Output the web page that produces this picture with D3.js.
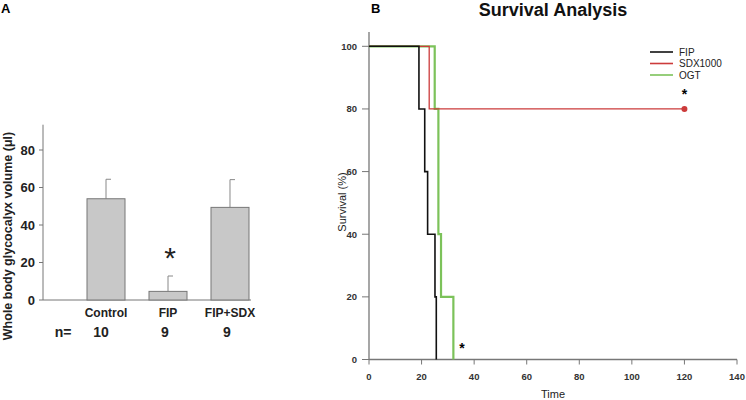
<!DOCTYPE html>
<html><head><meta charset="utf-8">
<script src="https://cdn.jsdelivr.net/npm/d3@7"></script>
<style>body{margin:0;background:#fff;}svg{display:block;font-family:"Liberation Sans",Arial,sans-serif;}</style>
</head><body>
<svg id="c" width="746" height="400"></svg>
<script>
// Panel A data
const groups = ["Control", "FIP", "FIP+SDX"];
const groupN = ["10", "9", "9"];
const means = [54, 4.6, 49.4];
const errUp = [64.4, 12.8, 64.2];
const yTicksA = [0, 20, 40, 60, 80];

// Panel B data (Kaplan-Meier step points: time, survival %)
const seriesNames = ["FIP", "SDX1000", "OGT"];
const fipTimes = [0, 19, 21.2, 22.3, 25.1, 25.6];
const fipSurv = [100, 80, 60, 40, 20, 0];
const sdxTimes = [0, 22.9, 120];
const sdxSurv = [100, 80, 80];
const ogtTimes = [0, 25, 26.4, 27.4, 32.1];
const ogtSurv = [100, 80, 40, 20, 0];
const xTicksB = [0, 20, 40, 60, 80, 100, 120, 140];
const yTicksB = [0, 20, 40, 60, 80, 100];
const colors = ["#111111", "#cc3b3b", "#7cc25a"];

const svg = d3.select("#c");

// ---------- Panel A ----------
const gA = svg.append("g");
gA.append("text").attr("x", 1).attr("y", 13).attr("font-weight", "bold").attr("font-size", 13).text("A");

const xA = d3.scaleBand().domain(groups).range([87, 249]).paddingInner(0.387).paddingOuter(0);
const yA = d3.scaleLinear().domain([0, 80]).range([300, 150]);
// axes
gA.append("line").attr("x1", 43).attr("x2", 43).attr("y1", yA(0)).attr("y2", yA(93.5)).attr("stroke", "#777");
gA.append("line").attr("x1", 43).attr("x2", 251).attr("y1", yA(0)).attr("y2", yA(0)).attr("stroke", "#777");
yTicksA.forEach(t => {
  gA.append("line").attr("x1", 39).attr("x2", 43).attr("y1", yA(t)).attr("y2", yA(t)).attr("stroke", "#777");
  gA.append("text").attr("x", 35).attr("y", yA(t)).attr("dy", "0.35em").attr("text-anchor", "end")
    .attr("font-weight", "bold").attr("font-size", 13).attr("fill", "#222").text(t);
});
gA.append("text").attr("transform", `translate(12,${236}) rotate(-90)`).attr("text-anchor", "middle")
  .attr("font-weight", "bold").attr("font-size", 12.5).attr("fill", "#222").text("Whole body glycocalyx volume (μl)");

const bw = xA.bandwidth();
groups.forEach((g, i) => {
  const x0 = xA(g);
  gA.append("line").attr("x1", x0 + bw / 2).attr("x2", x0 + bw / 2).attr("y1", yA(means[i])).attr("y2", yA(errUp[i])).attr("stroke", "#888");
  gA.append("line").attr("x1", x0 + bw / 2).attr("x2", x0 + bw / 2 + 5).attr("y1", yA(errUp[i])).attr("y2", yA(errUp[i])).attr("stroke", "#888");
  gA.append("rect").attr("x", x0).attr("y", yA(means[i])).attr("width", bw).attr("height", yA(0) - yA(means[i]))
    .attr("fill", "#c8c8c8").attr("stroke", "#777").attr("stroke-width", 1);
  gA.append("text").attr("x", x0 + bw / 2).attr("y", 317).attr("text-anchor", "middle")
    .attr("font-weight", "bold").attr("font-size", 12).attr("fill", "#222").text(g);
  gA.append("text").attr("x", x0 + bw / 2 - 3 + (i === 0 ? -2 : 0)).attr("y", 337).attr("text-anchor", "middle")
    .attr("font-weight", "bold").attr("font-size", 14).attr("fill", "#222").text(groupN[i]);
});
gA.append("text").attr("x", 63).attr("y", 337).attr("text-anchor", "middle")
  .attr("font-weight", "bold").attr("font-size", 14).attr("fill", "#222").text("n=");
gA.append("text").attr("x", xA("FIP") + bw / 2 + 2).attr("y", 268).attr("text-anchor", "middle")
  .attr("font-size", 30).attr("fill", "#222").text("*");

// ---------- Panel B ----------
const gB = svg.append("g");
gB.append("text").attr("x", 371).attr("y", 13).attr("font-weight", "bold").attr("font-size", 13).text("B");
gB.append("text").attr("x", 553).attr("y", 16).attr("text-anchor", "middle").attr("font-weight", "bold")
  .attr("font-size", 18).attr("fill", "#111").text("Survival Analysis");

const xB = d3.scaleLinear().domain([0, 140]).range([369, 737]);
const yB = d3.scaleLinear().domain([0, 100]).range([359.5, 46.3]);

gB.append("line").attr("x1", xB(0)).attr("x2", xB(0)).attr("y1", yB(0)).attr("y2", 32).attr("stroke", "#777").attr("stroke-width", 1.3);
gB.append("line").attr("x1", xB(0)).attr("x2", xB(140)).attr("y1", yB(0)).attr("y2", yB(0)).attr("stroke", "#777").attr("stroke-width", 1.3);
xTicksB.forEach(t => {
  gB.append("line").attr("x1", xB(t)).attr("x2", xB(t)).attr("y1", yB(0)).attr("y2", yB(0) + 5).attr("stroke", "#777");
  gB.append("text").attr("x", xB(t)).attr("y", 380).attr("text-anchor", "middle").attr("font-weight", "bold")
    .attr("font-size", 9.5).attr("fill", "#333").text(t);
});
yTicksB.forEach(t => {
  gB.append("line").attr("x1", xB(0) - 7).attr("x2", xB(0)).attr("y1", yB(t)).attr("y2", yB(t)).attr("stroke", "#777");
  gB.append("text").attr("x", xB(0) - 12).attr("y", yB(t)).attr("dy", "0.35em").attr("text-anchor", "end").attr("font-weight", "bold")
    .attr("font-size", 9.5).attr("fill", "#333").text(t);
});
gB.append("text").attr("x", 553).attr("y", 398).attr("text-anchor", "middle").attr("font-size", 11).attr("fill", "#222").text("Time");
gB.append("text").attr("transform", `translate(346,202) rotate(-90)`).attr("text-anchor", "middle")
  .attr("font-size", 11).attr("fill", "#222").text("Survival (%)");

const line = d3.line().x(d => xB(d[0])).y(d => yB(d[1])).curve(d3.curveStepAfter);
const series = [
  d3.zip(fipTimes, fipSurv),
  d3.zip(sdxTimes, sdxSurv),
  d3.zip(ogtTimes, ogtSurv)
];
const widths = [1.6, 1.3, 2.2];
[2, 1, 0].forEach(i => {
  gB.append("path").attr("d", line(series[i])).attr("fill", "none").attr("stroke", colors[i]).attr("stroke-width", widths[i]);
});
gB.append("circle").attr("cx", xB(sdxTimes[sdxTimes.length - 1])).attr("cy", yB(sdxSurv[sdxSurv.length - 1])).attr("r", 3).attr("fill", colors[1]);

// legend
seriesNames.forEach((n, i) => {
  const y = 52 + i * 11.5;
  gB.append("line").attr("x1", 650).attr("x2", 673).attr("y1", y).attr("y2", y).attr("stroke", colors[i]).attr("stroke-width", 1.6);
  gB.append("text").attr("x", 679).attr("y", y).attr("dy", "0.35em").attr("font-size", 10).attr("fill", "#222").text(n);
});
// significance stars
gB.append("text").attr("x", xB(120)).attr("y", 99).attr("text-anchor", "middle").attr("font-size", 14).attr("font-weight", "bold").text("*");
gB.append("text").attr("x", 462).attr("y", 353).attr("text-anchor", "middle").attr("font-size", 14).attr("font-weight", "bold").text("*");
</script>
</body></html>
